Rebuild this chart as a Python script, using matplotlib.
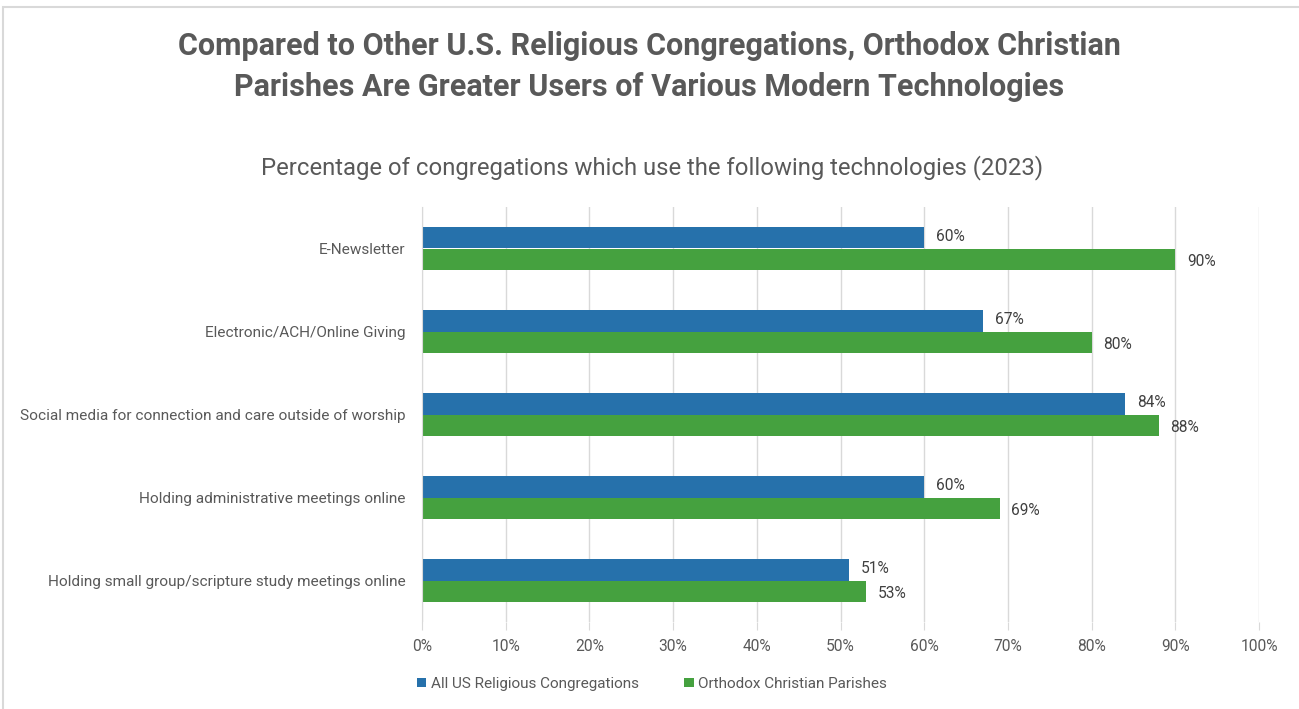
import matplotlib
matplotlib.use("Agg")
import matplotlib.pyplot as plt
from matplotlib.patches import Rectangle
from matplotlib.ticker import PercentFormatter

categories = [
    "E-Newsletter",
    "Electronic/ACH/Online Giving",
    "Social media for connection and care outside of worship",
    "Holding administrative meetings online",
    "Holding small group/scripture study meetings online",
]
all_us = [60, 67, 84, 60, 51]
orthodox = [90, 80, 88, 69, 53]
series_names = ["All US Religious Congregations", "Orthodox Christian Parishes"]
x_ticks = [0, 10, 20, 30, 40, 50, 60, 70, 80, 90, 100]

BLUE = "#2671AB"
GREEN = "#45A13F"
TEXT = "#595959"

title_font = ["Roboto", "DejaVu Sans"]
body_font = ["Roboto", "DejaVu Sans"]

fig = plt.figure(figsize=(12.99, 7.09), dpi=100)
fig.patch.set_facecolor("white")

# outer chart frame
fig.add_artist(Rectangle((3 / 1299, -0.01), 1.01, 1 - 7 / 709 + 0.01,
                         transform=fig.transFigure, fill=False,
                         edgecolor="#D9D9D9", linewidth=1.5))

ax = fig.add_axes([422 / 1299, 1 - 622 / 709, (1259 - 422) / 1299, 415 / 709])

n = len(categories)
pos = list(range(n))
h = 0.255
ax.barh([p - h / 2 for p in pos], all_us, height=h, color=BLUE, label=series_names[0])
ax.barh([p + h / 2 for p in pos], orthodox, height=h, color=GREEN, label=series_names[1])

for p, v in zip(pos, all_us):
    ax.text(v + 1.4, p - h / 2 - 0.02, f"{v}%", va="center", ha="left",
            fontsize=11.2, color="#404040", family=body_font)
for p, v in zip(pos, orthodox):
    ax.text(v + 1.4, p + h / 2 + 0.03, f"{v}%", va="center", ha="left",
            fontsize=11.2, color="#404040", family=body_font)

ax.set_xlim(0, 100)
ax.set_ylim(n - 0.5, -0.5)
ax.set_xticks(x_ticks)
ax.xaxis.set_major_formatter(PercentFormatter(decimals=0))
ax.set_yticks(pos)
ax.set_yticklabels(categories)
ax.grid(axis="x", color="#D9D9D9", linewidth=1)
ax.set_axisbelow(True)
for s in ["top", "right", "bottom"]:
    ax.spines[s].set_visible(False)
ax.spines["left"].set_color("#D9D9D9")
ax.tick_params(axis="x", length=6, color="#D9D9D9", labelsize=11.2, labelcolor=TEXT, pad=6)
ax.tick_params(axis="y", length=0, labelsize=11.1, labelcolor=TEXT, pad=12)
for lab in ax.get_xticklabels() + ax.get_yticklabels():
    lab.set_family(body_font)

fig.text(0.5, 1 - 46 / 709, "Compared to Other U.S. Religious Congregations, Orthodox Christian",
         ha="center", va="center", fontsize=22, fontweight="bold", color=TEXT, family=title_font)
fig.text(0.5, 1 - 87 / 709, "Parishes Are Greater Users of Various Modern Technologies",
         ha="center", va="center", fontsize=22, fontweight="bold", color=TEXT, family=title_font)
fig.text(652 / 1299, 1 - 168 / 709, "Percentage of congregations which use the following technologies (2023)",
         ha="center", va="center", fontsize=17.2, color=TEXT, family=body_font)

leg = fig.legend(loc="center", bbox_to_anchor=(652 / 1299, 1 - 684 / 709), ncol=2,
                 frameon=False, handlelength=0.6, handleheight=0.6,
                 handletextpad=0.3, columnspacing=3, prop={"family": body_font, "size": 11})
for t in leg.get_texts():
    t.set_color(TEXT)

fig.savefig("out.png", dpi=100)
